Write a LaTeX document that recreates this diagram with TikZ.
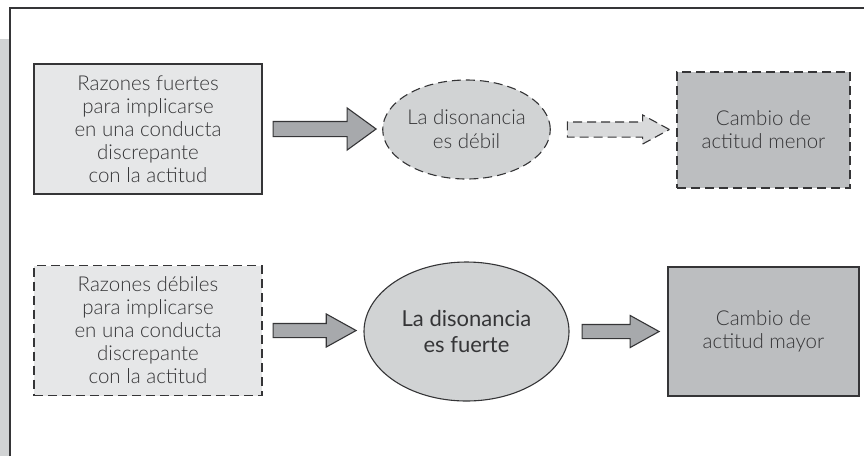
\documentclass[tikz,border=0pt]{standalone}
\usepackage{fontspec}
\setmainfont{Lato}[UprightFont={* Light},BoldFont={*}]
\usetikzlibrary{shapes.geometric,shapes.arrows,positioning}
\definecolor{ink}{HTML}{353537}
\definecolor{paleGray}{HTML}{E6E7E8}
\definecolor{midGray}{HTML}{D1D3D4}
\definecolor{deepGray}{HTML}{BCBEC0}
\definecolor{arrowGray}{HTML}{A7A9AC}
\definecolor{softArrow}{HTML}{D9DADB}
\tikzset{
  basebox/.style={draw=ink,line width=1.1pt,align=center,text=ink,inner sep=0pt,font=\fontsize{20.5}{23}\selectfont},
  reasonbox/.style={basebox,fill=paleGray,minimum width=228pt,minimum height=130pt},
  changebox/.style={basebox,fill=deepGray},
  dissonance/.style={basebox,ellipse,fill=midGray},
  dashline/.style={dash pattern=on 9pt off 5pt},
  blockarrow/.style={single arrow,draw=ink,line width=1.1pt,fill=arrowGray,inner xsep=0pt},
  frameline/.style={draw=ink,line width=1.2pt}
}

\begin{document}
\begin{tikzpicture}[x=1pt,y=-1pt]
  \useasboundingbox (0,0) rectangle (864,456);
  % page frame
  \fill[midGray] (0,39) rectangle (9.4,456);
  \draw[frameline] (10,456) -- (10,8) -- (864,8);

  % upper row
  \node[reasonbox] (strong) at (148,129) {Razones fuertes\\para implicarse\\en una conducta\\discrepante\\con la actitud};
  \node[dissonance,dashline,minimum width=147pt,minimum height=99pt,font=\fontsize{20.5}{24}\selectfont] (weakdis) at (466.5,129.5) {La disonancia\\es débil};
  \node[changebox,dashline,minimum width=173pt,minimum height=116pt] (minor) at (763.5,130) {Cambio de\\actitud menor};
  \node[blockarrow,inner ysep=7pt,minimum height=103pt,minimum width=41pt,single arrow head extend=13.5pt,
        single arrow tip angle=72,right=10pt of strong] (a1) {};
  \node[blockarrow,dashline,fill=softArrow,inner ysep=7pt,minimum height=102pt,minimum width=28pt,
        single arrow head extend=7pt,single arrow tip angle=57,right=16pt of weakdis] (a2) {};

  % lower row
  \node[reasonbox,dashline] (weak) at (148,330.5) {Razones débiles\\para implicarse\\en una conducta\\discrepante\\con la actitud};
  \node[dissonance,minimum width=205pt,minimum height=139pt,font=\fontsize{22}{26}\selectfont\bfseries] (strongdis) at (466.5,331.5) {La disonancia\\es fuerte};
  \node[changebox,minimum width=191pt,minimum height=129pt] (major) at (763.5,331.5) {Cambio de\\actitud mayor};
  \node[blockarrow,inner ysep=6.5pt,minimum height=83pt,minimum width=32pt,single arrow head extend=9.5pt,
        single arrow tip angle=58,right=10pt of weak] (a3) {};
  \node[blockarrow,inner ysep=6.5pt,minimum height=77pt,minimum width=31pt,single arrow head extend=9pt,
        single arrow tip angle=58,right=12pt of strongdis] (a4) {};
\end{tikzpicture}
\end{document}
